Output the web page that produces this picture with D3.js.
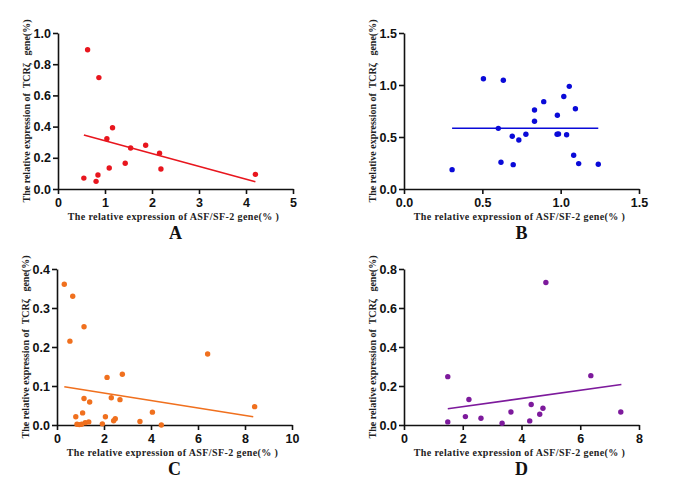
<!DOCTYPE html>
<html>
<head>
<meta charset="utf-8">
<script src="https://cdn.jsdelivr.net/npm/d3@7"></script>
<style>
  body { margin: 0; background: #fff; }
  svg { display: block; }
  .tick text { font-family: "Liberation Sans", Arial, sans-serif; font-weight: bold; font-size: 12.5px; fill: #111; }
  .domain, .tick line { stroke: #111; stroke-width: 1.6; }
  .lab { font-family: "Liberation Serif", "Times New Roman", serif; font-weight: bold; font-size: 10px; fill: #222; white-space: pre; }
  .xlab { letter-spacing: 0.4px; }
  .letter { font-family: "Liberation Serif", "Times New Roman", serif; font-weight: bold; font-size: 18px; fill: #111; }
</style>
</head>
<body>
<svg width="685" height="485"></svg>
<script>
// panel A
var pointsA = [[0.63,0.893],[0.87,0.714],[1.16,0.393],[1.04,0.322],[1.545,0.263],[1.865,0.28],[2.16,0.229],
  [2.19,0.128],[1.43,0.165],[1.09,0.135],[0.55,0.07],[0.85,0.09],[0.81,0.049],[4.2,0.094]]
var fitA = [[0.55,0.346],[4.2,0.047]]

// panel B
var pointsB = [[0.507,1.06],[0.634,1.045],[1.055,0.987],[1.02,0.89],[0.892,0.84],[0.833,0.76],[1.094,0.772],
  [0.979,0.709],[0.833,0.651],[0.602,0.583],[0.691,0.507],[0.733,0.471],[0.778,0.526],[0.977,0.526],
  [0.986,0.53],[1.038,0.522],[1.083,0.324],[1.115,0.244],[1.24,0.238],[0.619,0.257],[0.697,0.234],[0.307,0.186]]
var fitB = [[0.307,0.584],[1.24,0.584]]

// panel C
var pointsC = [[0.31,0.361],[0.67,0.33],[1.15,0.252],[0.55,0.215],[6.41,0.182],[2.13,0.122],[2.78,0.13],
  [1.15,0.068],[1.39,0.059],[2.31,0.07],[2.68,0.065],[8.41,0.047],[0.8,0.021],[1.09,0.031],[2.06,0.021],
  [4.06,0.033],[2.41,0.011],[2.48,0.016],[3.53,0.009],[1.93,0.003],[4.44,0.0],
  [0.85,0.002],[0.95,0.001],[1.05,0.002],[1.2,0.006],[1.35,0.008]]
var fitC = [[0.31,0.098],[8.35,0.021]]

// panel D
var pointsD = [[4.83,0.731],[1.49,0.248],[6.36,0.253],[2.21,0.131],[4.33,0.105],[4.73,0.086],[3.64,0.067],
  [4.62,0.055],[2.09,0.043],[2.62,0.035],[4.28,0.021],[1.49,0.016],[3.34,0.009],[7.38,0.067]]
var fitD = [[1.49,0.083],[7.4,0.208]]

var xTitle = "The relative expression of ASF/SF-2 gene(% )"
var yTitle = "The relative expression of  TCRζ   gene(%)"

var panels = [
  { letter: "A", pts: pointsA, fit: fitA, color: "#e8161e", xMax: 5, xTicks: [0,1,2,3,4,5], xFmt: d3.format("d"),
    yMax: 1.0, yTicks: [0,0.2,0.4,0.6,0.8,1.0], yFmt: d3.format(".1f"), left: 58, top: 33 },
  { letter: "B", pts: pointsB, fit: fitB, color: "#0a0ad8", xMax: 1.5, xTicks: [0,0.5,1.0,1.5], xFmt: d3.format(".1f"),
    yMax: 1.5, yTicks: [0,0.5,1.0,1.5], yFmt: d3.format(".1f"), left: 404, top: 33 },
  { letter: "C", pts: pointsC, fit: fitC, color: "#f0701e", xMax: 10, xTicks: [0,2,4,6,8,10], xFmt: d3.format("d"),
    yMax: 0.4, yTicks: [0,0.1,0.2,0.3,0.4], yFmt: d3.format(".1f"), left: 57, top: 269 },
  { letter: "D", pts: pointsD, fit: fitD, color: "#7d1a9c", xMax: 8, xTicks: [0,2,4,6,8], xFmt: d3.format("d"),
    yMax: 0.8, yTicks: [0,0.2,0.4,0.6,0.8], yFmt: d3.format(".1f"), left: 404, top: 269 }
]

var svg = d3.select("svg")
var W = 235, H = 156

panels.forEach(p => {
  var g = svg.append("g").attr("transform", `translate(${p.left},${p.top})`)
  var x = d3.scaleLinear().domain([0, p.xMax]).range([0, W])
  var y = d3.scaleLinear().domain([0, p.yMax]).range([H, 0])

  g.append("g").attr("transform", `translate(0,${H})`)
    .call(d3.axisBottom(x).tickValues(p.xTicks).tickFormat(p.xFmt).tickSize(5).tickPadding(4).tickSizeOuter(0))
  g.append("g")
    .call(d3.axisLeft(y).tickValues(p.yTicks).tickFormat(p.yFmt).tickSize(5).tickPadding(2).tickSizeOuter(0))

  g.append("line")
    .attr("x1", x(p.fit[0][0])).attr("y1", y(p.fit[0][1]))
    .attr("x2", x(p.fit[1][0])).attr("y2", y(p.fit[1][1]))
    .attr("stroke", p.color).attr("stroke-width", 1.6)

  g.selectAll("circle")
    .data(p.pts)
    .enter()
    .append("circle")
    .attr("cx", d => x(d[0]))
    .attr("cy", d => y(d[1]))
    .attr("r", 2.7)
    .attr("fill", p.color)

  g.append("text").attr("class", "lab xlab")
    .attr("x", W / 2 - 2).attr("y", H + 31)
    .attr("text-anchor", "middle")
    .text(xTitle)

  g.append("text").attr("class", "lab")
    .attr("transform", `translate(-28,${H / 2}) rotate(-90)`)
    .attr("text-anchor", "middle")
    .text(yTitle)

  g.append("text").attr("class", "letter")
    .attr("x", W / 2).attr("y", H + 50)
    .attr("text-anchor", "middle")
    .text(p.letter)
})
</script>
</body>
</html>
